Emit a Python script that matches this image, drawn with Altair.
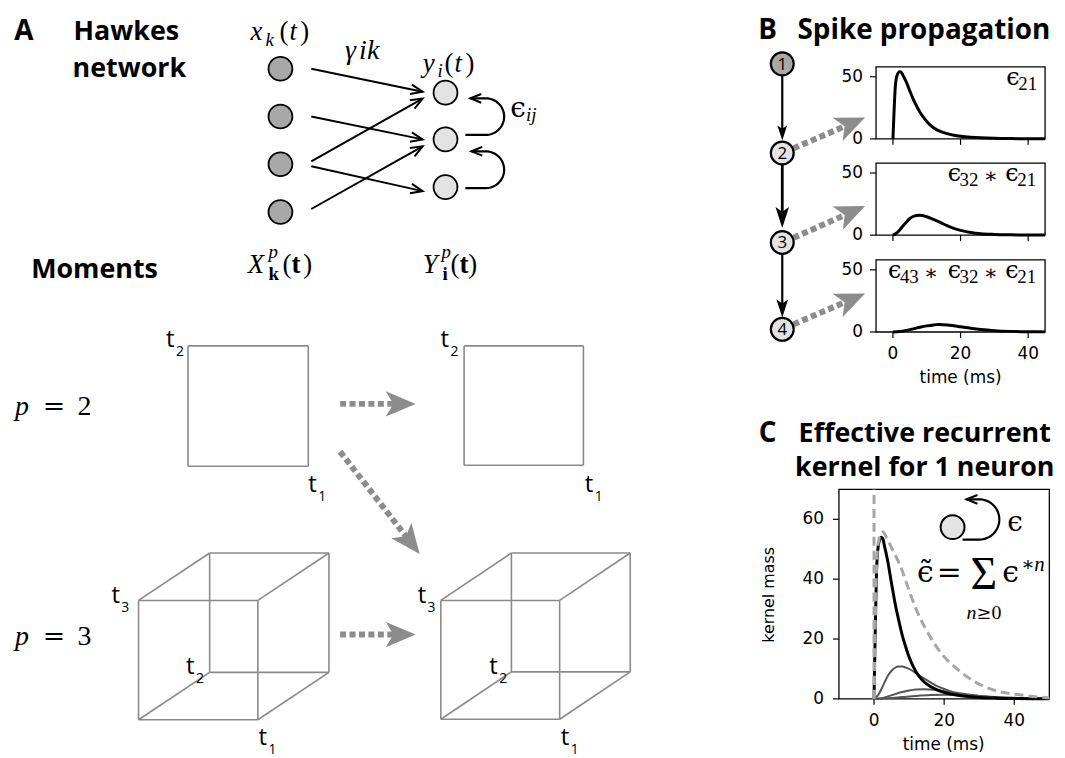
import math
import altair as alt
import pandas as pd

W, H = 1055, 750
M = 8  # page margin: picture px = chart px + 8

SANS = "Open Sans"
MPL = "DejaVu Sans"
SERIF = "Liberation Serif"
MATH = "DejaVu Serif"
GRAY = "#8c8c8c"
BOX = "#8a8a8a"
DARK = "#a8a8a8"
LIGHT = "#e3e3e3"

# ---------------- curves (time in ms, kernel mass) ----------------
b1_t = [0, 0.3, 0.7, 1.2, 2, 2.5, 3, 4, 5, 6, 7, 8, 9, 10, 12, 14, 16, 18, 20, 23, 26, 30, 35, 40, 45]
b1_v = [0, 20, 42, 51, 54, 53.5, 51, 45.5, 38.5, 32, 26.5, 21.5, 17.5, 14, 9, 6, 4.2, 3, 2.2, 1.4, 0.9, 0.5, 0.25, 0.12, 0.05]
b2_t = [0, 1, 2, 3, 4, 5, 6, 7, 8, 9, 10, 12, 14, 16, 18, 20, 23, 26, 30, 35, 40, 45]
b2_v = [0, 1.5, 4.2, 7.5, 10.6, 13.4, 15, 15.8, 16, 15.6, 14.8, 12.6, 10.3, 7.6, 5.4, 3.8, 2.2, 1.2, 0.6, 0.25, 0.1, 0.05]
b3_t = [0, 2, 4, 6, 8, 10, 12, 13.5, 15, 18, 20, 23, 26, 30, 35, 40, 45]
b3_v = [0, 0.4, 1.3, 2.5, 3.8, 4.9, 5.7, 6.0, 5.9, 5.0, 4.2, 3.0, 2.0, 1.1, 0.5, 0.2, 0.1]

c1_t = b1_t + [50]
c1_v = b1_v + [0.02]
c2_t = [0, 1, 2, 3, 4, 5, 6, 7, 8, 9, 10, 12, 14, 16, 18, 20, 23, 26, 30, 35, 40, 50]
c2_v = [0, 1, 3, 5.5, 7.8, 9.4, 10.4, 10.8, 10.8, 10.5, 10, 8.6, 7, 5.6, 4.3, 3.3, 2.1, 1.3, 0.7, 0.3, 0.12, 0.02]
c3_t = [0, 2, 4, 6, 8, 10, 12, 14, 16, 18, 20, 23, 26, 30, 35, 40, 50]
c3_v = [0, 0.2, 0.8, 1.6, 2.3, 2.8, 3.1, 3.2, 3.1, 2.9, 2.6, 2.1, 1.6, 1.0, 0.5, 0.25, 0.05]
c4_t = [0, 4, 8, 12, 16, 20, 24, 28, 32, 36, 40, 45, 50]
c4_v = [0, 0.2, 0.6, 1.0, 1.3, 1.4, 1.3, 1.1, 0.8, 0.55, 0.35, 0.2, 0.1]
csum_t = [0, 0.3, 0.7, 1.2, 2, 2.6, 3.5, 5, 6.5, 8, 9.3, 12, 15.4, 19, 24, 28.6, 34, 42, 50]
csum_v = [0, 22, 43, 52, 55, 55.8, 54, 50.5, 47, 43, 38.6, 30, 22, 15.5, 9.7, 5.8, 3, 1.3, 0.3]
c_delta_top = 70

b_xticks = [0, 20, 40]
b_yticks = [0, 50]
c_xticks = [0, 20, 40]
c_yticks = [0, 20, 40, 60]

# ---------------- diagram geometry (picture pixels) ----------------
A_left_x, A_left_y = 282, [67, 115, 163, 211]
A_right_x, A_right_y = 448, [91, 138, 186]
A_arrows = [((313, 67), (425, 90)), ((313, 115), (425, 138)), ((313, 160), (425, 97)),
            ((313, 165), (425, 190)), ((313, 208), (425, 145))]
A_loops = [((468, 133.5), (473, 96.7), 507), ((468, 187), (474, 150), 507)]
squares = [(189, 345.7, 121), (466.7, 345.7, 120)]
cubes = [(139.3, 601.7, 120, 71.5, -47.7), (443.3, 601.7, 119.5, 71, -47.7)]
dotted_arrows = [((342, 404), (418, 404)), ((342, 452), (422, 555)), ((342, 636), (418, 636)),
                 ((798, 147), (870, 116)), ((798, 237), (870, 205)), ((798, 324), (870, 293))]
chain_x, chain_y = 786.7, [62, 151.7, 241.7, 329]
chain_links = [(74, 139, 15, "chain1"), (163.5, 227, 21, "chain2"), (253.5, 317, 18, "chain1")]
C_node = (958, 528)
C_loop = ((968, 540.5), (972, 500), 1005)

RULES, HEADS, LOOPS, NODES, TXT = [], [], [], [], []


def add_rule(p, q, style):
    RULES.append({"x": p[0], "y": p[1], "x2": q[0], "y2": q[1], "style": style})


def head(tip, frm, L, style):
    dx, dy = tip[0] - frm[0], tip[1] - frm[1]
    d = math.hypot(dx, dy)
    ux, uy = dx / d, dy / d
    HEADS.append({"x": tip[0] - ux * L / 2, "y": tip[1] - uy * L / 2,
                  "ang": math.degrees(math.atan2(dy, dx)) % 360, "size": L * L, "style": style})


def loop(idx, start, end, bulge):
    cy = (start[1] + end[1]) / 2
    ry = (start[1] - end[1]) / 2
    cx = bulge - ry
    pts = [start, (cx, start[1])]
    n = 30
    for k in range(1, n):
        a = math.pi / 2 - math.pi * k / n
        pts.append((cx + ry * math.cos(a), cy + ry * math.sin(a)))
    pts += [(cx, end[1]), end]
    for k, (x, y) in enumerate(pts):
        LOOPS.append({"id": idx, "k": k, "x": x, "y": y})
    head(end, (cx, end[1]), 11, "open")


def txt(s, x, y, size, font=SANS, style="normal", weight="normal", align="left", angle=0, color="black"):
    TXT.append({"text": s, "x": x, "y": y, "size": size, "font": font, "style": style,
                "weight": weight, "align": align, "angle": angle, "color": color})


def it(s, x, y, size=27, align="left"):
    txt(s, x, y, size, font=SERIF, style="italic", align=align)


def rm(s, x, y, size=27, align="left"):
    txt(s, x, y, size, font=SERIF, align=align)


def bf(s, x, y, size=27):
    txt(s, x, y, size, font=SERIF, weight="bold")


def mt(s, x, y, size=27, align="left"):
    txt(s, x, y, size, font=MATH, align=align)


# network A
for y in A_left_y:
    NODES.append({"x": A_left_x, "y": y, "fill": DARK, "size": 576, "sw": 1.8})
for y in A_right_y:
    NODES.append({"x": A_right_x, "y": y, "fill": LIGHT, "size": 576, "sw": 1.8})
for s, t in A_arrows:
    add_rule(s, t, "arrow")
    head(t, s, 12, "open")
for i, (s, e, b) in enumerate(A_loops):
    loop(i, s, e, b)

# moment boxes
for x0, y0, s in squares:
    c = [(x0, y0), (x0 + s, y0), (x0 + s, y0 + s), (x0, y0 + s)]
    for i in range(4):
        add_rule(c[i], c[(i + 1) % 4], "box")
for x0, y0, s, ox, oy in cubes:
    f = [(x0, y0), (x0 + s, y0), (x0 + s, y0 + s), (x0, y0 + s)]
    b = [(x + ox, y + oy) for x, y in f]
    for i in range(4):
        add_rule(f[i], f[(i + 1) % 4], "box")
        add_rule(b[i], b[(i + 1) % 4], "box")
        add_rule(f[i], b[i], "box")

# dotted gray arrows
for s, t in dotted_arrows:
    dx, dy = t[0] - s[0], t[1] - s[1]
    d = math.hypot(dx, dy)
    e = (t[0] - dx / d * 30 * 0.72, t[1] - dy / d * 30 * 0.72)
    add_rule(s, e, "dot")
    head(t, s, 30, "fancy")

# spike chain B
for y0, tip, L, st in chain_links:
    add_rule((chain_x, y0), (chain_x, tip - 0.6 * L), st)
    head((chain_x, tip), (chain_x, y0), L, "narrow")
for i, y in enumerate(chain_y):
    NODES.append({"x": chain_x, "y": y, "fill": DARK if i == 0 else LIGHT, "size": 529, "sw": 2.2})
    txt(str(i + 1), chain_x, y + 6, 17, align="center")

# C inset
NODES.append({"x": C_node[0], "y": C_node[1], "fill": LIGHT, "size": 576, "sw": 2})
loop(5, *C_loop)

# ---------------- texts ----------------
txt("A", 24, 38, 28, weight="bold", align="center")
txt("Hawkes", 127, 38, 27, weight="bold", align="center")
txt("network", 130, 75, 27, weight="bold", align="center")
txt("Moments", 95, 277, 27, weight="bold", align="center")
txt("B", 772, 37, 28, weight="bold", align="center")
txt("Spike propagation", 802, 37, 28, weight="bold")
txt("C", 772, 442, 28, weight="bold", align="center")
txt("Effective recurrent", 930, 442, 27, weight="bold", align="center")
txt("kernel for 1 neuron", 930, 477, 27, weight="bold", align="center")

# x_k(t)
it("x", 252, 38); it("k", 267, 44, 19); rm("(", 281, 38); it("t", 291, 38); rm(")", 302, 38)
# gamma ik
it("γ", 347, 57, 28); it("i", 361, 57, 28); it("k", 369, 57, 28)
# y_i(t)
it("y", 425, 70); it("i", 440, 75, 19); rm("(", 447, 70); it("t", 457, 70); rm(")", 468, 70)
# eps_ij
mt("ϵ", 513, 115, 28); it("ij", 529, 120, 19)
# X^p_k(t)
it("X", 249, 272); it("p", 270, 257, 19); bf("k", 270, 279, 19); rm("(", 284, 272); bf("t", 293, 272); rm(")", 305, 272)
# Y^p_i(t)
it("Y", 425, 272); it("p", 444, 257, 19); bf("i", 445, 279, 19); rm("(", 453, 272); bf("t", 462, 272); rm(")", 471, 272)
# p = 2, p = 3
for yb, dig in [(415, "2"), (647, "3")]:
    it("p", 15, yb, 28); mt("=", 43, yb, 27); rm(dig, 78, yb, 28)

# t labels
T_LABELS = [(167, 347, "2"), (310, 493, "1"), (443, 347, "2"), (588, 493, "1"),
            (112, 604, "3"), (187, 676, "2"), (260, 747, "1"),
            (420, 604, "3"), (492, 676, "2"), (564, 747, "1")]
for x, y, d in T_LABELS:
    txt("t", x, y, 24)
    txt(d, x + 10, y + 9, 14)

# B annotations
mt("ϵ", 1012, 83, 24); rm("21", 1024, 88, 19)
mt("ϵ", 953, 180, 24); rm("32", 965, 185, 19); mt("∗", 989, 182, 21); mt("ϵ", 1011, 180, 24); rm("21", 1023, 185, 19)
mt("ϵ", 893, 277, 24); rm("43", 905, 282, 19); mt("∗", 929, 279, 21)
mt("ϵ", 953, 277, 24); rm("32", 965, 282, 19); mt("∗", 989, 279, 21); mt("ϵ", 1011, 277, 24); rm("21", 1023, 282, 19)

# C inset formula
mt("ϵ", 1013, 532, 28)
mt("ϵ\u0303", 930.5, 583, 30, align="center")
mt("=", 942, 583, 30)
rm("Σ", 976, 590, 46)
mt("ϵ", 1008, 583, 30)
mt("∗", 1027, 572, 20); it("n", 1040, 572, 21)
it("n", 972, 620, 20); mt("≥", 982, 620, 18); rm("0", 997, 620, 20)

# axis titles
txt("time (ms)", 966, 383, 17, font=MPL, align="center")
txt("time (ms)", 949, 752, 17, font=MPL, align="center")
txt("kernel mass", 778, 596, 16, font=MPL, align="center", angle=270)

# ---------------- build diagram layer ----------------
DSX = alt.Scale(domain=[M, M + W], range=[0, W], nice=False, zero=False)
DSY = alt.Scale(domain=[M, M + H], range=[0, H], nice=False, zero=False)


def DX(f):
    return alt.X(f, type="quantitative", scale=DSX, axis=None)


def DY(f):
    return alt.Y(f, type="quantitative", scale=DSY, axis=None)


RULE_STYLES = {
    "box": dict(color=BOX, strokeWidth=1.6),
    "arrow": dict(color="black", strokeWidth=2),
    "chain1": dict(color="black", strokeWidth=2.2),
    "chain2": dict(color="black", strokeWidth=2.8),
    "dot": dict(color=GRAY, strokeWidth=6, strokeDash=[6, 3.5], strokeCap="butt"),
}
HEAD_STYLES = {
    "open": dict(shape="M -1 -0.8 L 1 0 L -1 0.8", filled=False, color="black", strokeWidth=2),
    "fancy": dict(shape="M 1 0 L -1 -0.85 L -0.5 0 L -1 0.85 Z", filled=True, color=GRAY, strokeWidth=0),
    "narrow": dict(shape="M 1 0 L -1 -0.65 L -0.55 0 L -1 0.65 Z", filled=True, color="black", strokeWidth=0),
}

layers = []
rules_df = pd.DataFrame(RULES)
for st, props in RULE_STYLES.items():
    sub = rules_df[rules_df["style"] == st]
    if len(sub):
        layers.append(alt.Chart(sub).mark_rule(**props).encode(
            x=DX("x"), y=DY("y"), x2=alt.X2("x2"), y2=alt.Y2("y2")))

layers.append(alt.Chart(pd.DataFrame(LOOPS)).mark_line(color="black", strokeWidth=2.2).encode(
    x=DX("x"), y=DY("y"), detail="id:N", order="k:Q"))

heads_df = pd.DataFrame(HEADS)
for st, props in HEAD_STYLES.items():
    sub = heads_df[heads_df["style"] == st]
    if len(sub):
        layers.append(alt.Chart(sub).mark_point(opacity=1, **props).encode(
            x=DX("x"), y=DY("y"), angle=alt.Angle("ang:Q", scale=None),
            size=alt.Size("size:Q", scale=None)))

layers.append(alt.Chart(pd.DataFrame(NODES)).mark_point(
    shape="circle", filled=True, opacity=1, stroke="black").encode(
    x=DX("x"), y=DY("y"), fill=alt.Fill("fill:N", scale=None),
    size=alt.Size("size:Q", scale=None), strokeWidth=alt.StrokeWidth("sw:Q", scale=None)))

txt_df = pd.DataFrame(TXT)
for (font, style, weight, align, angle), sub in txt_df.groupby(["font", "style", "weight", "align", "angle"]):
    layers.append(alt.Chart(sub).mark_text(
        font=font, fontStyle=style, fontWeight=weight, align=align, baseline="alphabetic",
        angle=float(angle)).encode(
        x=DX("x"), y=DY("y"), text="text:N",
        size=alt.Size("size:Q", scale=None), color=alt.Color("color:N", scale=None)))

diagram = alt.layer(*layers)


# ---------------- real plots (B, C) ----------------
def frame(xs, ys, xdom, ydom):
    df = pd.DataFrame({"x0": [xdom[0]], "x1": [xdom[1]], "y0": [ydom[0]], "y1": [ydom[1]]})
    return alt.Chart(df).mark_rect(filled=False, color="black", strokeWidth=1.3).encode(
        x=alt.X("x0:Q", scale=xs, axis=None), x2="x1",
        y=alt.Y("y0:Q", scale=ys, axis=None), y2="y1")


def guides(xs, ys, xdom, ydom, xvals, yvals, xlabels, ylab_dx, xlab_dy=14):
    """Ticks and tick labels placed through the panel's own scales."""
    out = []
    xt = pd.DataFrame({"t": xvals, "b": [ydom[0]] * len(xvals), "lab": [str(v) for v in xvals]})
    yt = pd.DataFrame({"v": yvals, "l": [xdom[0]] * len(yvals), "lab": [str(v) for v in yvals]})
    out.append(alt.Chart(xt).mark_rule(color="black", strokeWidth=1.2, y2Offset=6).encode(
        x=alt.X("t:Q", scale=xs, axis=None), y=alt.Y("b:Q", scale=ys, axis=None), y2="b"))
    out.append(alt.Chart(yt).mark_rule(color="black", strokeWidth=1.2, x2Offset=-6).encode(
        x=alt.X("l:Q", scale=xs, axis=None), x2="l", y=alt.Y("v:Q", scale=ys, axis=None)))
    if xlabels:
        out.append(alt.Chart(xt).mark_text(font=MPL, fontSize=17, color="black", align="center",
                                           baseline="top", dy=xlab_dy).encode(
            x=alt.X("t:Q", scale=xs, axis=None), y=alt.Y("b:Q", scale=ys, axis=None), text="lab:N"))
    out.append(alt.Chart(yt).mark_text(font=MPL, fontSize=17, color="black", align="right",
                                       baseline="middle", dx=ylab_dx).encode(
        x=alt.X("l:Q", scale=xs, axis=None), y=alt.Y("v:Q", scale=ys, axis=None), text="lab:N"))
    return out


B_XDOM, B_YDOM = [-5, 45], [0, 58]
B_XR = [881 - M, 1051 - M]
B_YR = [[137.5 - M, 65 - M], [234.3 - M, 161.8 - M], [331.7 - M, 259.2 - M]]
b_series = [(b1_t, b1_v), (b2_t, b2_v), (b3_t, b3_v)]

panels = []
for i, (tt, vv) in enumerate(b_series):
    xs = alt.Scale(domain=B_XDOM, range=B_XR, nice=False, zero=False)
    ys = alt.Scale(domain=B_YDOM, range=B_YR[i], nice=False, zero=False)
    curve = alt.Chart(pd.DataFrame({"t": tt, "v": vv})).mark_line(
        color="black", strokeWidth=3, interpolate="monotone").encode(
        x=alt.X("t:Q", scale=xs, axis=None), y=alt.Y("v:Q", scale=ys, axis=None))
    panels.append(alt.layer(frame(xs, ys, B_XDOM, B_YDOM),
                            *guides(xs, ys, B_XDOM, B_YDOM, b_xticks, b_yticks, i == 2, -13),
                            curve))

C_XDOM, C_YDOM = [-10, 50], [0, 70]
C_XR = [843.7 - M, 1055.3 - M]
C_YR = [700.7 - M, 490 - M]
cxs = alt.Scale(domain=C_XDOM, range=C_XR, nice=False, zero=False)
cys = alt.Scale(domain=C_YDOM, range=C_YR, nice=False, zero=False)

gray_df = pd.concat([pd.DataFrame({"t": c2_t, "v": c2_v, "n": 2}),
                     pd.DataFrame({"t": c3_t, "v": c3_v, "n": 3}),
                     pd.DataFrame({"t": c4_t, "v": c4_v, "n": 4})])
c_gray = alt.Chart(gray_df).mark_line(color="#555555", strokeWidth=2, interpolate="monotone").encode(
    x=alt.X("t:Q", scale=cxs, axis=None), y=alt.Y("v:Q", scale=cys, axis=None), detail="n:N")
c_black = alt.Chart(pd.DataFrame({"t": c1_t, "v": c1_v})).mark_line(
    color="black", strokeWidth=3, interpolate="monotone").encode(
    x=alt.X("t:Q", scale=cxs, axis=None), y=alt.Y("v:Q", scale=cys, axis=None))
c_sum = alt.Chart(pd.DataFrame({"t": csum_t, "v": csum_v})).mark_line(
    color="#a6a6a6", strokeWidth=3, strokeDash=[9, 5], interpolate="monotone").encode(
    x=alt.X("t:Q", scale=cxs, axis=None), y=alt.Y("v:Q", scale=cys, axis=None))
c_delta = alt.Chart(pd.DataFrame({"t": [0], "v0": [0], "v1": [c_delta_top]})).mark_rule(
    color="#a6a6a6", strokeWidth=3, strokeDash=[9, 5]).encode(
    x=alt.X("t:Q", scale=cxs, axis=None), y=alt.Y("v0:Q", scale=cys, axis=None), y2="v1")
panels.append(alt.layer(frame(cxs, cys, C_XDOM, C_YDOM),
                        *guides(cxs, cys, C_XDOM, C_YDOM, c_xticks, c_yticks, True, -15),
                        c_gray, c_black, c_sum, c_delta))

chart = alt.layer(diagram, *panels).resolve_scale(
    x="independent", y="independent"
).properties(
    width=W, height=H, padding=0, background="white",
    autosize=alt.AutoSizeParams(type="none"),
).configure_view(strokeOpacity=0)

chart.save("out.html", embed_options={"renderer": "svg", "actions": False})
